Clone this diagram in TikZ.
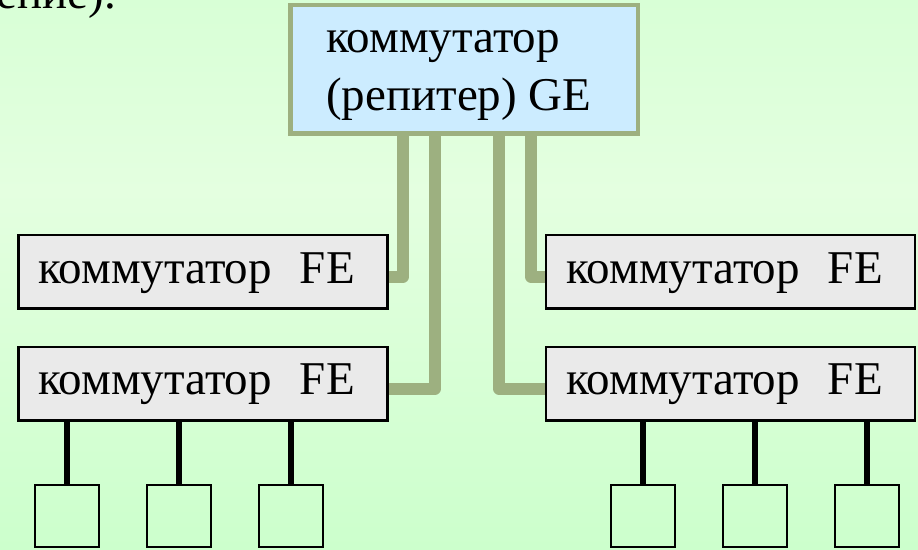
\documentclass[tikz,border=0pt]{standalone}
\usepackage{fontspec}
\setmainfont{Liberation Serif}
\usetikzlibrary{calc}
\pgfdeclarelayer{bglayer}
\pgfdeclarelayer{linklayer}
\pgfsetlayers{bglayer,linklayer,main}
\definecolor{olivec}{RGB}{157,176,128}
\definecolor{geblue}{RGB}{204,236,255}
\definecolor{fegray}{RGB}{234,234,234}
\definecolor{bgtop}{RGB}{216,255,214}
\definecolor{bgmid}{RGB}{228,255,224}
\definecolor{bgbot}{RGB}{204,255,204}
\begin{document}
\begin{tikzpicture}[x=1pt,y=-1pt,
  gebox/.style={draw=olivec, line width=4.5pt, fill=geblue, minimum width=347.5pt, minimum height=128.5pt, inner sep=0pt},
  febox/.style={draw=black, line width=2.4pt, fill=fegray, minimum width=369pt, minimum height=73.3pt, inner sep=0pt},
  endbox/.style={draw=black, line width=2pt, minimum width=64pt, minimum height=62.5pt, inner sep=0pt},
  lbl/.style={font=\fontsize{47pt}{56pt}\selectfont, inner sep=0pt, anchor=base west},
  link/.style={draw=olivec, line width=11.5pt, line join=round},
  wire/.style={draw=black, line width=6pt}]
\useasboundingbox (0,0) rectangle (918,549);
\begin{pgfonlayer}{bglayer}
  \shade[top color=bgtop, bottom color=bgmid] (0,0) rectangle (918,191);
  \shade[top color=bgmid, bottom color=bgbot] (0,190) rectangle (918,549);
\end{pgfonlayer}

% partial text at top left
\node[lbl, anchor=base east] (frag) at (116,8) {ение).};

% main switch
\node[gebox] (ge) at (464.25,69.25) {};
\node[lbl] (getxt1) at (326,52) {коммутатор};
\node[lbl] (getxt2) at (326,110) {(репитер) GE};

% FE switches
\node[febox] (fe1) at (202.85,271.9) {};
\node[febox] (fe3) at (202.85,383.75) {};
\node[febox] (fe2) at (730.75,271.9) {};
\node[febox] (fe4) at (730.75,383.75) {};
\node[lbl] (t1) at (38,283) {коммутатор\ \ \hspace{4.5pt}FE};
\node[lbl] (t3) at (38,394) {коммутатор\ \ \hspace{4.5pt}FE};
\node[lbl] (t2) at (566,283) {коммутатор\ \ \hspace{4.5pt}FE};
\node[lbl] (t4) at (566,394) {коммутатор\ \ \hspace{4.5pt}FE};

% trunk links
\coordinate (b1) at (403,0);
\coordinate (b2) at (435,0);
\coordinate (b3) at (499,0);
\coordinate (b4) at (531,0);
\begin{pgfonlayer}{linklayer}
  \draw[link] (ge.south -| b1) |- ([yshift=-5pt]fe1.east);
  \draw[link] (ge.south -| b2) |- ([yshift=-5pt]fe3.east);
  \draw[link] (ge.south -| b3) |- ([yshift=-5pt]fe4.west);
  \draw[link] (ge.south -| b4) |- ([yshift=-5pt]fe2.west);
\end{pgfonlayer}

% end stations
\node[endbox] (s1) at (66.5,515.75) {};
\node[endbox] (s2) at (179,515.75) {};
\node[endbox] (s3) at (291,515.75) {};
\node[endbox] (s4) at (643,515.75) {};
\node[endbox] (s5) at (755,515.75) {};
\node[endbox] (s6) at (867,515.75) {};
\draw[wire] (fe3.south -| s1) -- (s1.north);
\draw[wire] (fe3.south -| s2) -- (s2.north);
\draw[wire] (fe3.south -| s3) -- (s3.north);
\draw[wire] (fe4.south -| s4) -- (s4.north);
\draw[wire] (fe4.south -| s5) -- (s5.north);
\draw[wire] (fe4.south -| s6) -- (s6.north);
\end{tikzpicture}
\end{document}
